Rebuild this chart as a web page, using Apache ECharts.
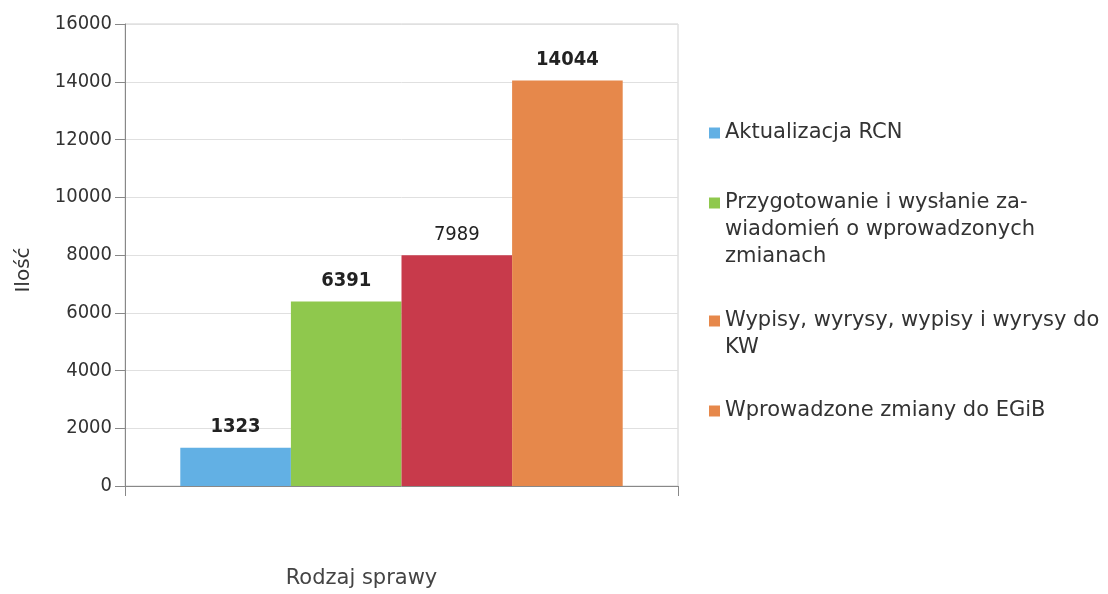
<!DOCTYPE html>
<html><head><meta charset="utf-8">
<script src="https://cdn.jsdelivr.net/npm/echarts@6/dist/echarts.min.js"></script>
<style>html,body{margin:0;padding:0;background:#fff}#c{width:1108px;height:594px}</style>
</head><body><div id="c"></div>
<script>
const categories = [''];
const seriesNames = [
  'Aktualizacja RCN',
  'Przygotowanie i wysłanie za-\nwiadomień o wprowadzonych\nzmianach',
  'Wypisy, wyrysy, wypisy i wyrysy do\nKW',
  'Wprowadzone zmiany do EGiB'
];
const aktualizacjaRCN = [1323];
const zawiadomienia = [6391];
const wypisyWyrysy = [7989];
const zmianyEGiB = [14044];
const seriesValues = [aktualizacjaRCN, zawiadomienia, wypisyWyrysy, zmianyEGiB];
const yTicks = { min: 0, max: 16000, interval: 2000 };

const colors = ['#62b0e4', '#8fc84d', '#c83a4b', '#e6884b'];
const legendIconColors = ['#62b0e4', '#8fc84d', '#e6884b', '#e6884b'];
const labelWeights = ['bold', 'bold', 'normal', 'bold'];
const lineH = 27;
const lineCenters = [133, 203, 321, 411];

const legends = seriesNames.map((n, i) => {
  const lines = n.split('\n').length;
  const total = 2 * lines - 1;
  const boxH = total * lineH;
  return {
    orient: 'vertical', left: 709, top: lineCenters[i] - boxH / 2,
    padding: 0, icon: 'rect', itemWidth: 11, itemHeight: 11,
    data: [{ name: n, itemStyle: { color: legendIconColors[i] } }],
    formatter: (name) => '\n'.repeat(lines - 1) + name,
    textStyle: { fontFamily: 'DejaVu Sans', fontSize: 21, color: '#333', lineHeight: lineH }
  };
});

const chart = echarts.init(document.getElementById('c'));
chart.setOption({
  animation: false,
  backgroundColor: '#fff',
  grid: { left: 125, right: 430, top: 24, bottom: 98, show: true, borderColor: '#d0d0d0', borderWidth: 1 },
  legend: legends,
  xAxis: {
    type: 'category', data: categories,
    name: 'Rodzaj sprawy', nameLocation: 'middle', nameGap: 82,
    nameTextStyle: { fontFamily: 'DejaVu Sans', fontSize: 21, color: '#444', padding: [0, 80, 0, 0] },
    axisLine: { lineStyle: { color: '#888' } },
    axisTick: { show: true, length: 10, lineStyle: { color: '#888' } },
    axisLabel: { show: false }
  },
  yAxis: {
    type: 'value', min: yTicks.min, max: yTicks.max, interval: yTicks.interval,
    name: 'Ilość', nameLocation: 'middle', nameGap: 91,
    nameTextStyle: { fontFamily: 'DejaVu Sans', fontSize: 20, color: '#333', padding: [0, 30, 0, 0] },
    axisLine: { show: true, lineStyle: { color: '#888' } },
    axisTick: { show: true, length: 10, lineStyle: { color: '#888' } },
    axisLabel: { fontFamily: 'DejaVu Sans Condensed', fontSize: 20, color: '#333', margin: 13, formatter: (v) => String(v) },
    splitLine: { lineStyle: { color: '#e0e0e0' } }
  },
  series: seriesNames.map((n, i) => ({
    name: n, type: 'bar', data: seriesValues[i],
    barGap: '0%', barCategoryGap: '20%',
    itemStyle: { color: colors[i] },
    label: { show: true, position: 'top', distance: 11, fontFamily: 'DejaVu Sans Condensed', fontSize: 20, fontWeight: labelWeights[i], color: '#222' }
  }))
});
</script></body></html>
